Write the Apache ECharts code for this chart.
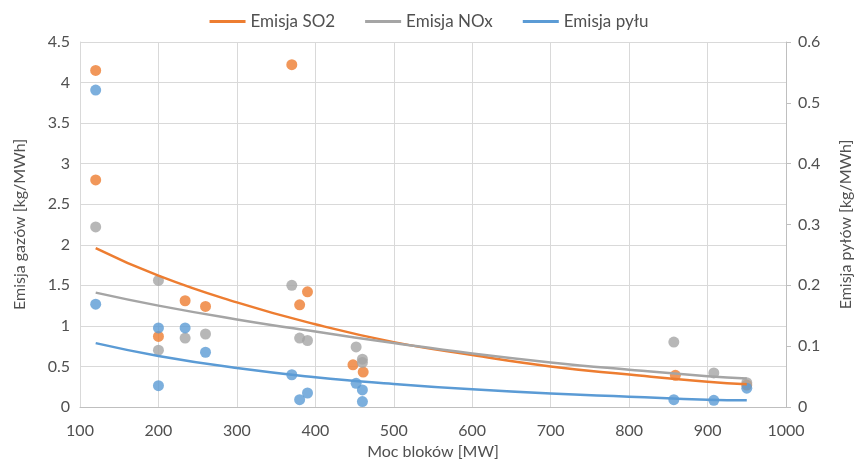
<!DOCTYPE html>
<html>
<head>
<meta charset="utf-8">
<script src="https://cdn.jsdelivr.net/npm/echarts@6/dist/echarts.min.js"></script>
<style>
  html, body { margin: 0; padding: 0; background: #fff; }
  #main { width: 858px; height: 460px; }
</style>
</head>
<body>
<div id="main"></div>
<script>
// punkty pomiarowe - SO2 [kg/MWh]
var so2X = [120, 120, 200, 234, 260, 370, 380, 390, 448, 461, 859, 950];
var so2Y = [4.15, 2.80, 0.87, 1.31, 1.24, 4.22, 1.26, 1.42, 0.52, 0.43, 0.39, 0.27];

// NOx [kg/MWh]
var noxX = [120, 200, 200, 234, 260, 370, 380, 390, 452, 460, 460, 857, 908, 950];
var noxY = [2.22, 1.56, 0.70, 0.85, 0.90, 1.50, 0.85, 0.82, 0.74, 0.59, 0.55, 0.80, 0.42, 0.30];

// pyl [kg/MWh] - prawa os
var pylX = [120, 120, 200, 200, 234, 260, 370, 380, 390, 452, 460, 460, 857, 908, 950];
var pylY = [0.521, 0.169, 0.130, 0.035, 0.130, 0.090, 0.053, 0.012, 0.023, 0.039, 0.028, 0.009, 0.012, 0.011, 0.031];

// linie trendu
var trendX = [120, 200, 300, 400, 500, 600, 700, 800, 900, 950];
var so2Trend = [1.96, 1.62, 1.29, 1.02, 0.80, 0.64, 0.50, 0.40, 0.31, 0.28];
var noxTrend = [1.41, 1.25, 1.08, 0.93, 0.79, 0.66, 0.55, 0.46, 0.38, 0.35];
var pylTrend = [0.105, 0.084, 0.064, 0.049, 0.038, 0.029, 0.022, 0.017, 0.012, 0.011];

function pary(xs, ys) {
    var out = [];
    for (var i = 0; i < xs.length; i++) {
        out.push([xs[i], ys[i]]);
    }
    return out;
}

var kolorSO2 = '#ED7D31';
var kolorNOx = '#A5A5A5';
var kolorPyl = '#5B9BD5';
var tekst = '#505050';
var font = 'Lato';
var rozmiar = 16;

function bezPrzecinka(v) {
    return String(v);
}

var oChart = echarts.init(document.getElementById('main'));

var chartopt = {
    animation: false,
    textStyle: { fontFamily: font, color: tekst },
    legend: {
        top: 8,
        left: 'center',
        icon: 'rect',
        itemWidth: 36,
        itemHeight: 3,
        itemGap: 30,
        textStyle: { fontFamily: font, fontSize: 17, color: tekst },
        data: ['Emisja SO2', 'Emisja NOx', 'Emisja pyłu']
    },
    grid: {
        left: 80,
        right: 72,
        top: 42,
        bottom: 53,
        outerBoundsMode: 'none'
    },
    xAxis: {
        type: 'value',
        min: 100,
        max: 1000,
        interval: 100,
        name: 'Moc bloków [MW]',
        nameLocation: 'middle',
        nameGap: 34,
        nameTextStyle: { fontFamily: font, fontSize: rozmiar, color: tekst },
        axisLine: { show: true, lineStyle: { color: '#bfbfbf' } },
        axisTick: { show: false },
        axisLabel: { fontFamily: font, fontSize: rozmiar, color: tekst, margin: 16, formatter: bezPrzecinka },
        splitLine: { show: true, lineStyle: { color: '#d9d9d9' } }
    },
    yAxis: [{
        type: 'value',
        min: 0,
        max: 4.5,
        interval: 0.5,
        name: 'Emisja gazów [kg/MWh]',
        nameLocation: 'middle',
        nameGap: 52,
        nameTextStyle: { fontFamily: font, fontSize: rozmiar, color: tekst },
        axisLine: { show: true, lineStyle: { color: '#d9d9d9' } },
        axisTick: { show: false },
        axisLabel: { fontFamily: font, fontSize: rozmiar, color: tekst, margin: 10 },
        splitLine: { show: true, lineStyle: { color: '#d9d9d9' } }
    }, {
        type: 'value',
        position: 'right',
        min: 0,
        max: 0.6,
        interval: 0.1,
        name: 'Emisja pyłów [kg/MWh]',
        nameLocation: 'middle',
        nameGap: 52,
        nameTextStyle: { fontFamily: font, fontSize: rozmiar, color: tekst },
        axisLine: { show: true, lineStyle: { color: '#bfbfbf' } },
        axisTick: { show: true, length: 5, lineStyle: { color: '#bfbfbf' } },
        axisLabel: { fontFamily: font, fontSize: rozmiar, color: tekst, margin: 12 },
        splitLine: { show: false }
    }],
    series: [{
        name: 'SO2 pomiar',
        type: 'scatter',
        symbolSize: 11,
        itemStyle: { color: kolorSO2 },
        data: pary(so2X, so2Y)
    }, {
        name: 'NOx pomiar',
        type: 'scatter',
        symbolSize: 11,
        itemStyle: { color: kolorNOx },
        data: pary(noxX, noxY)
    }, {
        name: 'pyl pomiar',
        type: 'scatter',
        yAxisIndex: 1,
        symbolSize: 11,
        itemStyle: { color: kolorPyl },
        data: pary(pylX, pylY)
    }, {
        name: 'Emisja SO2',
        type: 'line',
        smooth: true,
        symbol: 'none',
        lineStyle: { color: kolorSO2, width: 2.5 },
        itemStyle: { color: kolorSO2 },
        data: pary(trendX, so2Trend)
    }, {
        name: 'Emisja NOx',
        type: 'line',
        smooth: true,
        symbol: 'none',
        lineStyle: { color: kolorNOx, width: 2.5 },
        itemStyle: { color: kolorNOx },
        data: pary(trendX, noxTrend)
    }, {
        name: 'Emisja pyłu',
        type: 'line',
        smooth: true,
        symbol: 'none',
        yAxisIndex: 1,
        lineStyle: { color: kolorPyl, width: 2.5 },
        itemStyle: { color: kolorPyl },
        data: pary(trendX, pylTrend)
    }]
};

oChart.setOption(chartopt);
</script>
</body>
</html>
